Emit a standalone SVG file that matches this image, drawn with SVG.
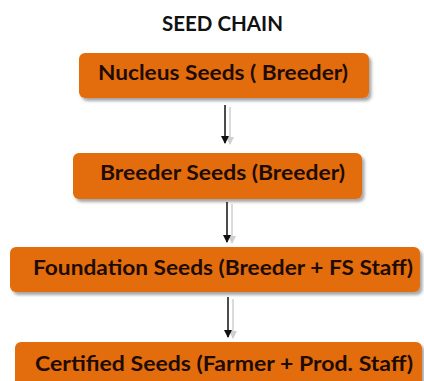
<svg xmlns="http://www.w3.org/2000/svg" width="424" height="381" viewBox="0 0 424 381">
<style>
.box{fill:#E36C0A;filter:url(#sh)}
.lbl{font-family:Lato,"Open Sans","Liberation Sans",sans-serif;font-weight:bold;font-size:21.5px;fill:#1E0C02}
.title{font-family:Lato,"Open Sans","Liberation Sans",sans-serif;font-weight:bold;font-size:21px;fill:#111}
.ln{stroke:#111;stroke-width:1.5;fill:none;marker-end:url(#ah)}
.lns{stroke:#cfcfcf;stroke-width:1.5;fill:none;marker-end:url(#ahs)}
</style>
<defs>
<filter id="sh" x="-10%" y="-30%" width="120%" height="170%">
<feDropShadow dx="2.5" dy="3" stdDeviation="1.5" flood-color="#000" flood-opacity="0.35"/>
</filter>
<marker id="ah" markerWidth="8" markerHeight="8" refX="7" refY="4" orient="auto" markerUnits="userSpaceOnUse" viewBox="0 0 8 8">
<path d="M0,0 L8,4 L0,8 Z" fill="#111"/>
</marker>
<marker id="ahs" markerWidth="8" markerHeight="8" refX="7" refY="4" orient="auto" markerUnits="userSpaceOnUse" viewBox="0 0 8 8">
<path d="M0,0 L8,4 L0,8 Z" fill="#cfcfcf"/>
</marker>
</defs>
<rect width="424" height="381" fill="#fff"/>
<text class="title" x="222.5" y="31" text-anchor="middle" textLength="121" lengthAdjust="spacingAndGlyphs">SEED CHAIN</text>
<g id="connectors">
<path class="lns" d="M230,107 V144"/>
<path class="ln" d="M225,105 V143"/>
<path class="lns" d="M232,204 V243"/>
<path class="ln" d="M227,202 V242"/>
<path class="lns" d="M233,299 V338"/>
<path class="ln" d="M228,297 V337"/>
</g>
<g id="n1">
<rect class="box" x="79" y="53" width="290" height="45" rx="6"/>
<text class="lbl" x="98" y="80" textLength="250" lengthAdjust="spacingAndGlyphs">Nucleus Seeds ( Breeder)</text>
</g>
<g id="n2">
<rect class="box" x="73" y="153" width="289" height="46" rx="6"/>
<text class="lbl" x="100" y="180" textLength="245" lengthAdjust="spacingAndGlyphs">Breeder Seeds (Breeder)</text>
</g>
<g id="n3">
<rect class="box" x="10" y="247" width="410" height="45" rx="6"/>
<text class="lbl" x="33" y="275" textLength="380" lengthAdjust="spacingAndGlyphs">Foundation Seeds (Breeder + FS Staff)</text>
</g>
<g id="n4">
<rect class="box" x="15" y="342" width="407" height="50" rx="6"/>
<text class="lbl" x="35" y="371" textLength="378" lengthAdjust="spacingAndGlyphs">Certified Seeds (Farmer + Prod. Staff)</text>
</g>
</svg>
